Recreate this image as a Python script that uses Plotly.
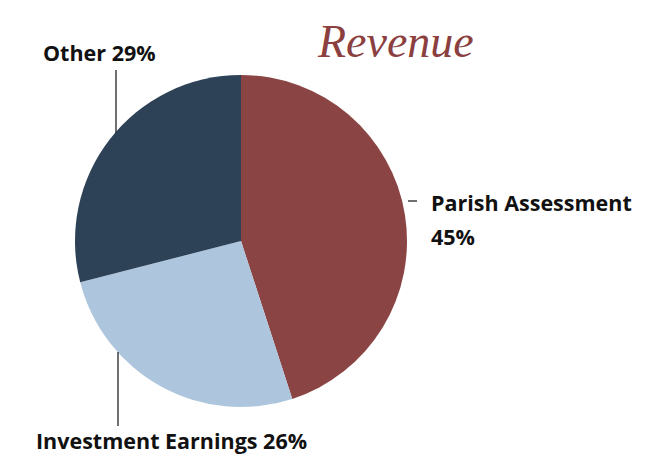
import plotly.graph_objects as go

W, H = 664, 457

labels = ["Parish Assessment", "Investment Earnings", "Other"]
values = [45, 26, 29]
colors = ["#8B4444", "#AEC6DD", "#2D4257"]


def px(x, y):
    # pixel position -> paper coords
    return x / W, 1 - y / H


fig = go.Figure()
fig.add_trace(go.Pie(labels=labels, values=values, sort=False, direction="clockwise",
                     rotation=0, textinfo="none", hoverinfo="label+percent",
                     marker=dict(colors=colors, line=dict(width=0)),
                     domain=dict(x=[75 / W, 407 / W], y=[1 - 407 / H, 1 - 75 / H]),
                     showlegend=False))

lbl_font = dict(family="Open Sans", size=21.5, color="#111111")
ann = []
for text, (lx, ly) in [("<b>Other 29%</b>", (41, 52)),
                       ("<b>Parish Assessment</b>", (429, 202)),
                       ("<b>45%</b>", (429, 236)),
                       ("<b>Investment Earnings 26%</b>", (34, 440))]:
    x, y = px(lx, ly)
    ann.append(dict(x=x, y=y, text=text, xanchor="left", yanchor="middle",
                    showarrow=False, font=lbl_font))
x, y = px(395, 42)
ann.append(dict(x=x, y=y, text="<i>Revenue</i>", xanchor="center", yanchor="middle",
                showarrow=False, font=dict(family="Liberation Serif", size=46, color="#8B3F3F")))

shapes = []
for (x0, y0, x1, y1) in [(116, 70, 116, 133), (408, 201, 417, 201), (118, 352, 118, 426)]:
    a, b = px(x0, y0)
    c, d = px(x1, y1)
    shapes.append(dict(type="line", xref="paper", yref="paper", x0=a, y0=b, x1=c, y1=d,
                       line=dict(color="#222222", width=1.3)))

fig.update_layout(width=W, height=H, margin=dict(l=0, r=0, t=0, b=0),
                  paper_bgcolor="white", plot_bgcolor="white",
                  annotations=ann, shapes=shapes)
fig.write_html("out.html", config={"displayModeBar": False},
               post_script="document.body.style.margin='0';")
